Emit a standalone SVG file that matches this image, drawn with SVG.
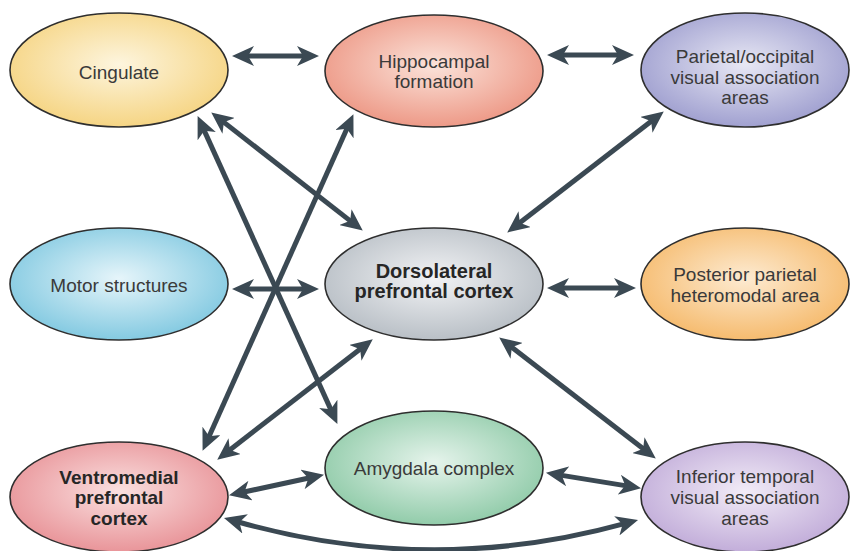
<svg xmlns="http://www.w3.org/2000/svg" width="851" height="551" viewBox="0 0 851 551">
<style>
.node ellipse{stroke:#2e2e2e;stroke-width:1.6}
.t{font-family:"Liberation Sans",Arial,sans-serif;font-size:19px;fill:#3a3a3a;text-anchor:middle}
.b{font-weight:bold;font-size:20px;fill:#262626}
.b2{font-size:19px}
#connectors line,#connectors path{stroke:#3b4953;stroke-width:5;fill:none;marker-start:url(#ah);marker-end:url(#ah)}
</style>
<defs>
<marker id="ah" markerUnits="userSpaceOnUse" viewBox="0 0 22 20" markerWidth="22" markerHeight="20" refX="9" refY="10" orient="auto-start-reverse">
<path d="M0,0 L22,10 L0,20 L6,10 Z" fill="#3b4953"/>
</marker>
<radialGradient id="gCing" cx="50%" cy="45%" r="60%"><stop offset="0" stop-color="#fdf5de"/><stop offset="1" stop-color="#f5d27c"/></radialGradient>
<radialGradient id="gHipp" cx="50%" cy="45%" r="60%"><stop offset="0" stop-color="#fbe3da"/><stop offset="1" stop-color="#ec9380"/></radialGradient>
<radialGradient id="gPar" cx="50%" cy="45%" r="60%"><stop offset="0" stop-color="#e8e8f4"/><stop offset="1" stop-color="#9a9acd"/></radialGradient>
<radialGradient id="gMot" cx="50%" cy="45%" r="60%"><stop offset="0" stop-color="#e6f5fa"/><stop offset="1" stop-color="#7bc6df"/></radialGradient>
<radialGradient id="gDor" cx="50%" cy="45%" r="60%"><stop offset="0" stop-color="#f2f3f5"/><stop offset="1" stop-color="#b4bbc2"/></radialGradient>
<radialGradient id="gPos" cx="50%" cy="45%" r="60%"><stop offset="0" stop-color="#fdebd2"/><stop offset="1" stop-color="#f5b766"/></radialGradient>
<radialGradient id="gVen" cx="50%" cy="45%" r="60%"><stop offset="0" stop-color="#fae0e0"/><stop offset="1" stop-color="#e78e93"/></radialGradient>
<radialGradient id="gAmy" cx="50%" cy="45%" r="60%"><stop offset="0" stop-color="#e6f4ec"/><stop offset="1" stop-color="#8ac8a4"/></radialGradient>
<radialGradient id="gInf" cx="50%" cy="45%" r="60%"><stop offset="0" stop-color="#f2ecf7"/><stop offset="1" stop-color="#bea8d7"/></radialGradient>
</defs>
<rect width="851" height="551" fill="#ffffff"/>

<g id="connectors">
<line x1="245" y1="56" x2="306" y2="56"/>
<line x1="560" y1="55" x2="621" y2="55"/>
<line x1="221.5" y1="120.4" x2="352.5" y2="222.6"/>
<line x1="203" y1="127.9" x2="332" y2="412.1"/>
<line x1="348.1" y1="126" x2="207.9" y2="439"/>
<line x1="245" y1="289" x2="306" y2="289"/>
<line x1="227.5" y1="451.7" x2="362.5" y2="347.3"/>
<line x1="517.5" y1="224.6" x2="653.5" y2="119.4"/>
<line x1="560" y1="288" x2="623" y2="288"/>
<line x1="509.5" y1="345.4" x2="645.5" y2="450.6"/>
<line x1="241.7" y1="492.5" x2="311.3" y2="477.5"/>
<line x1="558.8" y1="474.9" x2="628.2" y2="486.1"/>
<path d="M236.5,521.5 Q431,577 625.5,523.4"/>
</g>

<g id="cingulate" class="node"><ellipse cx="119" cy="70" rx="109" ry="57" fill="url(#gCing)"/><text class="t" x="119" y="79">Cingulate</text></g>
<g id="hippocampal" class="node"><ellipse cx="434" cy="71" rx="109" ry="56" fill="url(#gHipp)"/><text class="t" x="434" y="68">Hippocampal</text><text class="t" x="434" y="88">formation</text></g>
<g id="parietal-occipital" class="node"><ellipse cx="745" cy="70" rx="104" ry="57" fill="url(#gPar)"/><text class="t" x="745" y="63">Parietal/occipital</text><text class="t" x="745" y="84">visual association</text><text class="t" x="745" y="104">areas</text></g>
<g id="motor" class="node"><ellipse cx="119" cy="284" rx="109" ry="56" fill="url(#gMot)"/><text class="t" x="119" y="292">Motor structures</text></g>
<g id="dorsolateral" class="node"><ellipse cx="434" cy="284" rx="109" ry="56" fill="url(#gDor)"/><text class="t b" x="434" y="278">Dorsolateral</text><text class="t b" x="434" y="298">prefrontal cortex</text></g>
<g id="posterior-parietal" class="node"><ellipse cx="745" cy="284" rx="104" ry="56" fill="url(#gPos)"/><text class="t" x="745" y="281">Posterior parietal</text><text class="t" x="745" y="302">heteromodal area</text></g>
<g id="ventromedial" class="node"><ellipse cx="119" cy="497" rx="109" ry="55" fill="url(#gVen)"/><text class="t b b2" x="119" y="483.5">Ventromedial</text><text class="t b b2" x="119" y="504">prefrontal</text><text class="t b b2" x="119" y="524.5">cortex</text></g>
<g id="amygdala" class="node"><ellipse cx="434" cy="468" rx="109" ry="57" fill="url(#gAmy)"/><text class="t" x="434" y="475">Amygdala complex</text></g>
<g id="inferior-temporal" class="node"><ellipse cx="745" cy="497" rx="104" ry="55" fill="url(#gInf)"/><text class="t" x="745" y="483">Inferior temporal</text><text class="t" x="745" y="504">visual association</text><text class="t" x="745" y="525">areas</text></g>
</svg>
